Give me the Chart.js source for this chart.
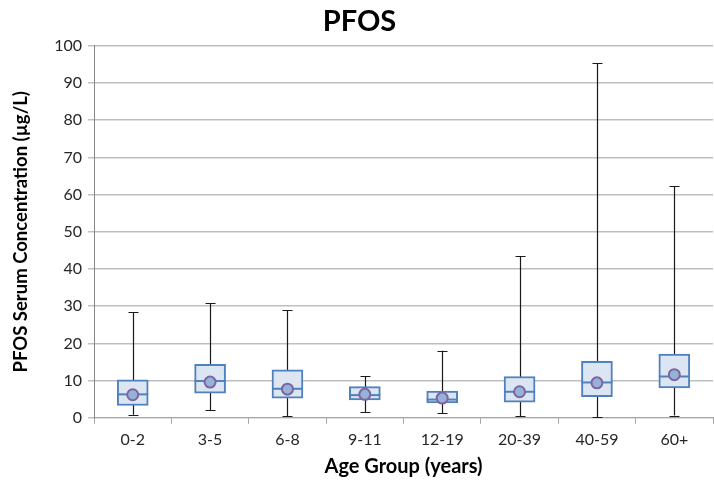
<!DOCTYPE html>
<html>
<head>
<meta charset="utf-8">
<script src="https://cdn.jsdelivr.net/npm/chart.js@4.4.1/dist/chart.umd.min.js"></script>
<style>
  body { margin: 0; background: #fff; }
  #wrap { width: 714px; height: 481px; }
</style>
</head>
<body>
<div id="wrap"><canvas id="chart" width="714" height="481"></canvas></div>
<script>
// PFOS serum levels by age group
const ageGroups = ['0-2', '3-5', '6-8', '9-11', '12-19', '20-39', '40-59', '60+']
const minVals = [0.8, 2.0, 0.4, 1.5, 1.3, 0.4, 0.1, 0.6]
const q1Vals = [3.3, 6.6, 5.3, 4.8, 4.0, 4.2, 5.7, 8.0]
const medianVals = [6.3, 9.9, 7.8, 6.1, 4.9, 7.0, 9.5, 11.1]
const q3Vals = [10.2, 14.4, 12.9, 8.4, 7.2, 11.1, 15.2, 17.1]
const maxVals = [28.4, 30.8, 29.0, 11.2, 18.0, 43.5, 95.4, 62.2]
const meanVals = [6.2, 9.6, 7.7, 6.3, 5.3, 7.0, 9.4, 11.6]
const yTicks = [0, 10, 20, 30, 40, 50, 60, 70, 80, 90, 100]

const fontFamily = 'Lato, "Open Sans", sans-serif'

// whiskers under the boxes, median lines on top of them
const boxExtras = {
    id: 'boxExtras',
    beforeDatasetsDraw(chart) {
        let ctx = chart.ctx
        let y = chart.scales.y
        let meta = chart.getDatasetMeta(0)
        ctx.save()
        ctx.strokeStyle = '#1a1a1a'
        ctx.lineWidth = 1.2
        meta.data.forEach(function(bar, i) {
            let x = Math.round(bar.x) + 0.5
            let top = y.getPixelForValue(maxVals[i])
            let bottom = y.getPixelForValue(minVals[i])
            ctx.beginPath()
            ctx.moveTo(x, top)
            ctx.lineTo(x, bottom)
            ctx.moveTo(x - 5, Math.round(top) + 0.5)
            ctx.lineTo(x + 5, Math.round(top) + 0.5)
            ctx.moveTo(x - 5, Math.round(bottom) + 0.5)
            ctx.lineTo(x + 5, Math.round(bottom) + 0.5)
            ctx.stroke()
        })
        ctx.restore()
    },
    afterDatasetDraw(chart, args) {
        if (args.index !== 0) return
        let ctx = chart.ctx
        let y = chart.scales.y
        ctx.save()
        ctx.strokeStyle = '#4f81bd'
        ctx.lineWidth = 2
        args.meta.data.forEach(function(bar, i) {
            let half = bar.width / 2
            let my = y.getPixelForValue(medianVals[i])
            ctx.beginPath()
            ctx.moveTo(bar.x - half, my)
            ctx.lineTo(bar.x + half, my)
            ctx.stroke()
        })
        ctx.restore()
    }
}

new Chart(document.getElementById('chart').getContext('2d'), {
    type: 'bar',
    data: {
        labels: ageGroups,
        datasets: [
            {
                label: 'IQR',
                data: q1Vals.map(function(q, i) { return [q, q3Vals[i]] }),
                backgroundColor: '#dce6f2',
                borderColor: '#4f81bd',
                borderWidth: 2,
                borderSkipped: false,
                barThickness: 31,
                order: 2
            },
            {
                type: 'line',
                label: 'Mean',
                data: meanVals,
                showLine: false,
                pointRadius: 5.5,
                pointBorderWidth: 2,
                pointBackgroundColor: '#95b3d7',
                pointBorderColor: '#8064a2',
                order: 1
            }
        ]
    },
    options: {
        responsive: false,
        animation: false,
        layout: {
            autoPadding: false,
            padding: { top: 0, right: 1, left: 6, bottom: 2 }
        },
        plugins: {
            legend: { display: false },
            tooltip: { enabled: false },
            title: {
                display: true,
                text: 'PFOS',
                color: '#000',
                font: { family: fontFamily, size: 29, weight: 'bold' },
                padding: { top: 4, bottom: 7 }
            }
        },
        scales: {
            x: {
                grid: {
                    offset: true,
                    drawOnChartArea: false,
                    color: '#a6a6a6',
                    tickLength: 6
                },
                border: { color: '#a6a6a6' },
                ticks: {
                    color: '#262626',
                    font: { family: fontFamily, size: 16 },
                    padding: 6
                },
                title: {
                    display: true,
                    text: 'Age Group (years)',
                    color: '#000',
                    font: { family: fontFamily, size: 20, weight: 'bold' },
                    padding: { top: 0, bottom: 0 }
                }
            },
            y: {
                min: 0,
                max: 100,
                afterBuildTicks: function(axis) {
                    axis.ticks = yTicks.map(function(v) { return { value: v } })
                },
                grid: {
                    color: '#bfbfbf',
                    lineWidth: 1.5,
                    tickLength: 6
                },
                border: { color: '#868686', width: 1 },
                ticks: {
                    color: '#262626',
                    font: { family: fontFamily, size: 16 },
                    padding: 6
                },
                title: {
                    display: true,
                    text: 'PFOS Serum Concentration (µg/L)',
                    color: '#000',
                    font: { family: fontFamily, size: 18.5, weight: 'bold' },
                    padding: { bottom: 16 }
                }
            }
        }
    },
    plugins: [boxExtras]
})
</script>
</body>
</html>
